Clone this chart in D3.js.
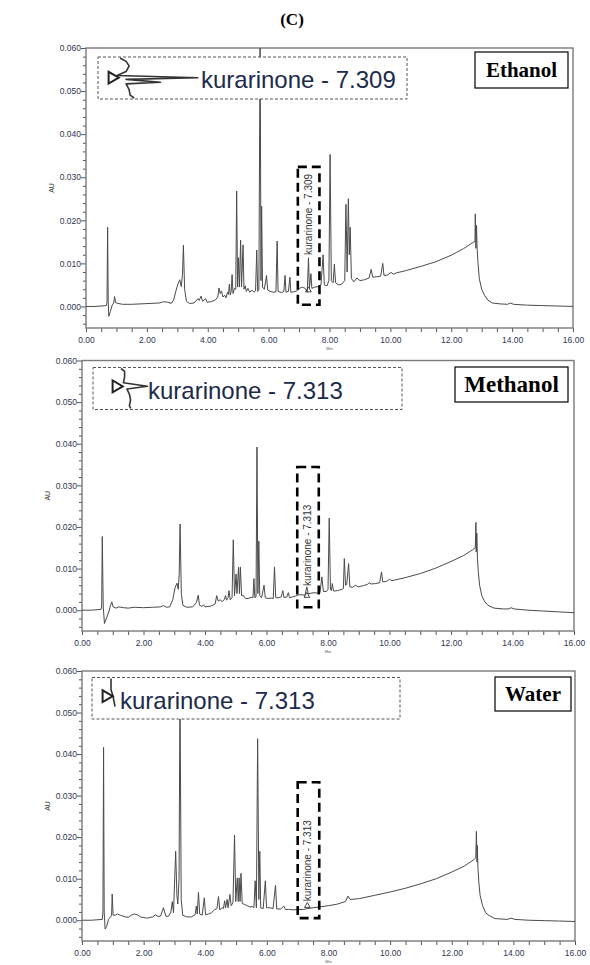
<!DOCTYPE html>
<html>
<head>
<meta charset="utf-8">
<title>Kurarinone chromatograms</title>
<script src="https://cdn.jsdelivr.net/npm/d3@7"></script>
<style>
  body { margin: 0; background: #fff; }
  svg text { font-family: Arial, "Liberation Sans", sans-serif; }
</style>
</head>
<body>
<svg id="chart" width="590" height="965"></svg>
<script>
// ---- data ----
var solventNames = ["Ethanol", "Methanol", "Water"];
var peakLabels = ["kurarinone - 7.309", "kurarinone - 7.313", "kurarinone - 7.313"];
var peakTimes = [7.309, 7.313, 7.313];
var labelStartAU = [0.0117, 0.0056, 0.0043];
var markerAU = [0.0033, 0.0030, 0.0030];
var calloutT0 = [6.96, 7.0, 7.0];
var calloutT1 = [7.67, 7.7, 7.7];
var calloutTop = [0.0324, 0.0344, 0.0332];
var calloutBottom = [0.0004, 0.0007, 0.0005];

var xTickValues = d3.range(0, 16.01, 0.5);
var yTickValues = d3.range(-0.004, 0.0601, 0.002);

var ethanolTrace = [[0,0],[0.3,0],[0.67,0.0002],[0.69,0.001],[0.71,0.0184],[0.73,0.001],[0.75,-0.0023],[0.8,-0.0012],[0.86,0.0003],[0.91,0.0008],[0.94,0.0023],[0.97,0.0009],[1.05,0.0007],[1.2,0.0005],[1.5,0.0005],[1.8,0.0006],[2.1,0.0007],[2.4,0.0008],[2.55,0.0011],[2.68,0.001],[2.8,0.0007],[2.88,0.0015],[2.95,0.0035],[3.02,0.0052],[3.08,0.0062],[3.13,0.0046],[3.17,0.0075],[3.2,0.0142],[3.24,0.004],[3.3,0.0012],[3.4,0.0007],[3.55,0.0008],[3.68,0.0018],[3.72,0.0014],[3.78,0.0024],[3.83,0.0012],[3.93,0.0018],[3.98,0.001],[4.1,0.0011],[4.25,0.0015],[4.33,0.0022],[4.37,0.0043],[4.41,0.003],[4.45,0.0036],[4.5,0.0022],[4.56,0.0026],[4.6,0.002],[4.65,0.0033],[4.68,0.0028],[4.71,0.0052],[4.74,0.0027],[4.77,0.0035],[4.8,0.0074],[4.83,0.003],[4.88,0.0042],[4.92,0.004],[4.95,0.0268],[4.98,0.0045],[5.01,0.0113],[5.04,0.0045],[5.08,0.0154],[5.11,0.0045],[5.16,0.0143],[5.19,0.004],[5.23,0.0048],[5.27,0.0035],[5.32,0.0042],[5.38,0.0033],[5.45,0.0038],[5.52,0.0033],[5.57,0.0036],[5.61,0.0131],[5.64,0.0035],[5.68,0.004],[5.72,0.063],[5.75,0.006],[5.77,0.0233],[5.8,0.0045],[5.86,0.004],[5.93,0.0072],[5.97,0.0038],[6.05,0.0035],[6.15,0.0033],[6.24,0.0034],[6.28,0.0152],[6.31,0.0035],[6.42,0.0032],[6.5,0.0035],[6.54,0.0072],[6.57,0.0033],[6.65,0.0035],[6.7,0.0068],[6.73,0.0033],[6.82,0.0034],[6.92,0.0036],[7.02,0.0042],[7.1,0.0045],[7.2,0.0042],[7.27,0.0033],[7.31,0.0113],[7.34,0.0042],[7.39,0.0076],[7.42,0.0042],[7.52,0.0045],[7.62,0.0046],[7.72,0.005],[7.79,0.012],[7.83,0.005],[7.92,0.0048],[7.98,0.006],[8.02,0.0353],[8.06,0.006],[8.12,0.0055],[8.16,0.0098],[8.2,0.0055],[8.3,0.005],[8.4,0.0052],[8.5,0.006],[8.54,0.0237],[8.58,0.008],[8.62,0.025],[8.65,0.012],[8.68,0.0184],[8.72,0.0065],[8.8,0.0057],[8.9,0.0066],[9.0,0.006],[9.15,0.0062],[9.3,0.0066],[9.37,0.0086],[9.42,0.0068],[9.55,0.0069],[9.68,0.007],[9.75,0.01],[9.79,0.0072],[9.9,0.0073],[10.02,0.0079],[10.1,0.0075],[10.2,0.0078],[10.5,0.0083],[11.0,0.0093],[11.5,0.0104],[12.0,0.0119],[12.4,0.0134],[12.7,0.0148],[12.78,0.0151],[12.79,0.0215],[12.81,0.0135],[12.83,0.0188],[12.85,0.0135],[12.88,0.01],[12.92,0.0065],[13.0,0.004],[13.1,0.0025],[13.2,0.0015],[13.35,0.0008],[13.6,0.0006],[13.85,0.0005],[13.94,0.0008],[14.05,0.0005],[14.5,0.0003],[15.0,0.0002],[15.5,0.0001],[16.0,0.0]];

var methanolTrace = [[0,0],[0.3,0],[0.62,0.0002],[0.64,0.001],[0.66,0.0177],[0.69,0.001],[0.73,-0.0032],[0.8,-0.0018],[0.88,-0.0002],[0.93,0.0012],[0.97,0.002],[1.01,0.0008],[1.1,0.0005],[1.2,0.0008],[1.35,0.0006],[1.5,0.0005],[1.7,0.0007],[2.0,0.0006],[2.3,0.0007],[2.55,0.0008],[2.65,0.0011],[2.75,0.0007],[2.85,0.0008],[2.95,0.0025],[3.03,0.0055],[3.09,0.0065],[3.13,0.005],[3.16,0.0085],[3.19,0.0207],[3.23,0.004],[3.28,0.0012],[3.4,0.0007],[3.6,0.0008],[3.72,0.0018],[3.78,0.0036],[3.82,0.0012],[3.9,0.0009],[3.95,0.0013],[4.0,0.0008],[4.2,0.001],[4.33,0.0015],[4.38,0.0035],[4.43,0.0022],[4.5,0.0025],[4.56,0.002],[4.62,0.0025],[4.67,0.0035],[4.7,0.0024],[4.75,0.003],[4.78,0.0047],[4.82,0.0025],[4.88,0.003],[4.92,0.0169],[4.96,0.0035],[5.01,0.0087],[5.04,0.004],[5.09,0.0103],[5.12,0.004],[5.15,0.0104],[5.19,0.0035],[5.25,0.0035],[5.32,0.0028],[5.4,0.0028],[5.5,0.0031],[5.56,0.003],[5.59,0.0076],[5.62,0.003],[5.66,0.0032],[5.69,0.0392],[5.72,0.004],[5.75,0.0166],[5.78,0.0035],[5.84,0.003],[5.92,0.006],[5.96,0.003],[6.05,0.0028],[6.15,0.0029],[6.22,0.0028],[6.26,0.0104],[6.3,0.003],[6.4,0.003],[6.48,0.0032],[6.53,0.0047],[6.57,0.003],[6.66,0.0032],[6.71,0.0042],[6.75,0.003],[6.85,0.0032],[6.95,0.0034],[7.05,0.0037],[7.15,0.0037],[7.25,0.0036],[7.31,0.0056],[7.36,0.0039],[7.45,0.0041],[7.55,0.0042],[7.65,0.0041],[7.74,0.0042],[7.8,0.008],[7.85,0.0045],[7.95,0.0045],[8.0,0.005],[8.04,0.0221],[8.08,0.005],[8.11,0.0047],[8.14,0.0064],[8.18,0.0046],[8.3,0.0047],[8.45,0.005],[8.5,0.0052],[8.53,0.0124],[8.57,0.006],[8.61,0.0062],[8.67,0.0112],[8.71,0.0056],[8.8,0.0055],[8.9,0.006],[8.98,0.0056],[9.15,0.0059],[9.28,0.0062],[9.34,0.0066],[9.4,0.0063],[9.55,0.0064],[9.68,0.0066],[9.74,0.0092],[9.78,0.0068],[9.9,0.0069],[10.0,0.0074],[10.08,0.0071],[10.2,0.0073],[10.5,0.0078],[11.0,0.0088],[11.5,0.0101],[12.0,0.0117],[12.4,0.0131],[12.7,0.0145],[12.79,0.015],[12.81,0.0211],[12.82,0.014],[12.84,0.0185],[12.86,0.0125],[12.89,0.009],[12.93,0.006],[13.0,0.0035],[13.1,0.002],[13.2,0.0012],[13.4,0.0005],[13.7,0.0003],[13.88,0.0003],[13.95,0.0006],[14.05,0.0003],[14.5,0.0],[15.0,-0.0002],[15.5,-0.0004],[16.0,-0.0006]];

var waterTrace = [[0,0],[0.3,0],[0.66,0.0002],[0.68,0.002],[0.7,0.0416],[0.72,0.002],[0.75,-0.0021],[0.8,-0.0015],[0.86,0.0002],[0.93,0.0008],[0.96,0.0012],[0.98,0.0063],[1.01,0.0012],[1.08,0.0012],[1.15,0.0015],[1.25,0.0012],[1.4,0.0008],[1.5,0.0007],[1.6,0.0012],[1.7,0.0015],[1.8,0.0013],[1.9,0.0008],[2.1,0.0005],[2.3,0.0008],[2.38,0.0013],[2.47,0.0009],[2.55,0.001],[2.64,0.003],[2.72,0.001],[2.8,0.0009],[2.88,0.0018],[2.93,0.0045],[2.97,0.0018],[3.04,0.0166],[3.08,0.006],[3.11,0.0039],[3.15,0.01],[3.18,0.056],[3.22,0.005],[3.27,0.0012],[3.4,0.0008],[3.55,0.0008],[3.67,0.0013],[3.71,0.0034],[3.74,0.0015],[3.78,0.0067],[3.82,0.0015],[3.9,0.0012],[3.97,0.0054],[4.01,0.0013],[4.1,0.0015],[4.2,0.0018],[4.3,0.0025],[4.38,0.0028],[4.43,0.0057],[4.47,0.0025],[4.55,0.003],[4.59,0.0028],[4.63,0.0047],[4.66,0.003],[4.71,0.005],[4.74,0.003],[4.8,0.0062],[4.84,0.0035],[4.9,0.0042],[4.95,0.0205],[4.99,0.0045],[5.04,0.0102],[5.07,0.0045],[5.1,0.0102],[5.13,0.0045],[5.16,0.0113],[5.2,0.004],[5.28,0.0038],[5.36,0.0035],[5.45,0.0032],[5.52,0.0033],[5.58,0.003],[5.62,0.0095],[5.66,0.003],[5.7,0.0437],[5.74,0.005],[5.77,0.0166],[5.8,0.003],[5.88,0.0028],[5.95,0.0095],[5.99,0.003],[6.1,0.003],[6.2,0.0028],[6.28,0.0084],[6.32,0.0027],[6.45,0.0027],[6.55,0.0034],[6.6,0.0026],[6.7,0.0026],[6.85,0.0025],[7.0,0.0026],[7.2,0.0026],[7.31,0.0028],[7.5,0.003],[8.0,0.0035],[8.3,0.0039],[8.55,0.0045],[8.63,0.0058],[8.7,0.005],[9.0,0.0052],[9.5,0.006],[10.0,0.0068],[10.5,0.0077],[11.0,0.0088],[11.5,0.01],[12.0,0.0116],[12.4,0.013],[12.7,0.0145],[12.78,0.015],[12.8,0.0214],[12.82,0.014],[12.83,0.018],[12.85,0.0125],[12.88,0.009],[12.92,0.006],[13.0,0.0035],[13.1,0.0018],[13.2,0.0012],[13.4,0.0004],[13.6,0.0003],[13.8,0.0002],[13.93,0.0005],[14.05,0.0002],[14.5,0.0],[15.0,-0.0001],[15.5,-0.0002],[16.0,-0.0003]];

var traces = [ethanolTrace, methanolTrace, waterTrace];

// ---- layout ----
var layout = [
  {left: 86, right: 573, top: 48, bottom: 328,
   nameBox: [475, 52, 568, 88], nameSize: 21,
   inset: [98, 57, 407, 99], insetText: 201, insetBase: 117, insetGain: 10100},
  {left: 82, right: 574, top: 360.5, bottom: 631,
   nameBox: [455, 367, 568, 402], nameSize: 23,
   inset: [93, 367.5, 402, 409.5], insetText: 148, insetBase: 121, insetGain: 12000},
  {left: 82, right: 575, top: 671, bottom: 941,
   nameBox: [495, 677, 571, 711], nameSize: 21,
   inset: [92, 677.5, 400, 719], insetText: 120, insetBase: 111, insetGain: 10000}
];

var svg = d3.select("#chart");

svg.append("text")
  .attr("x", 292).attr("y", 25)
  .attr("text-anchor", "middle")
  .style("font-family", "'Times New Roman', 'Liberation Serif', serif")
  .style("font-weight", "bold")
  .style("font-size", "17px")
  .text("(C)");

layout.forEach(function(p, i) {
  var g = svg.append("g");
  var x = d3.scaleLinear().domain([0, 16]).range([p.left, p.right]);
  var y = d3.scaleLinear().domain([-0.005, 0.060]).range([p.bottom, p.top]);

  // axes
  var xAxis = d3.axisBottom(x)
    .tickValues(xTickValues)
    .tickSizeInner(4).tickSizeOuter(0).tickPadding(5)
    .tickFormat(function(d) { return d % 2 === 0 ? d3.format(".2f")(d) : ""; });
  var gx = g.append("g").attr("transform", "translate(0," + p.bottom + ")").call(xAxis);

  var isMajor = function(v) { return Math.abs(v * 100 - Math.round(v * 100)) < 1e-6; };
  var yAxis = d3.axisLeft(y)
    .tickValues(yTickValues)
    .tickSizeInner(4).tickSizeOuter(0).tickPadding(1)
    .tickFormat(function(d) { return isMajor(d) ? d3.format(".3f")(Math.abs(d) < 1e-9 ? 0 : d) : ""; });
  var gy = g.append("g").attr("transform", "translate(" + p.left + ",0)").call(yAxis);
  gy.selectAll(".tick line").attr("x2", function(d) { return isMajor(d) ? -5 : -3; });

  [gx, gy].forEach(function(a) {
    a.select(".domain").remove();
    a.selectAll(".tick line").attr("stroke", "#555");
    a.selectAll(".tick text")
      .attr("fill", "#2f3552")
      .style("font-size", "8.5px")
      .style("font-family", "Arial, 'Liberation Sans', sans-serif");
  });

  // frame
  g.append("rect")
    .attr("x", p.left).attr("y", p.top)
    .attr("width", p.right - p.left).attr("height", p.bottom - p.top)
    .attr("fill", "none").attr("stroke", "#7a7a7a").attr("stroke-width", 1.4);

  // AU label
  g.append("text")
    .attr("transform", "translate(" + (p.left - 32) + "," + ((p.top + p.bottom) / 2) + ") rotate(-90)")
    .attr("text-anchor", "middle")
    .attr("fill", "#333")
    .style("font-size", "7px")
    .text("AU");

  // tiny minutes mark under the axis
  g.append("text")
    .attr("x", x(8)).attr("y", p.bottom + 22)
    .attr("text-anchor", "middle")
    .attr("fill", "#555")
    .style("font-size", "4px")
    .text("Min");

  // trace
  var clipId = "clip" + i;
  g.append("clipPath").attr("id", clipId)
    .append("rect").attr("x", p.left).attr("y", p.top)
    .attr("width", p.right - p.left).attr("height", p.bottom - p.top);

  var line = d3.line()
    .x(function(d) { return x(d[0]); })
    .y(function(d) { return y(d[1]); });

  g.append("path")
    .datum(traces[i])
    .attr("clip-path", "url(#" + clipId + ")")
    .attr("d", line)
    .attr("fill", "none")
    .attr("stroke", "#4a4a4a")
    .attr("stroke-width", 1)
    .attr("stroke-linejoin", "round");

  // peak marker and rotated label
  g.append("path")
    .attr("d", d3.symbol(d3.symbolTriangle, 14)())
    .attr("transform", "translate(" + x(peakTimes[i]) + "," + (y(markerAU[i]) - 2) + ")")
    .attr("fill", "none").attr("stroke", "#333").attr("stroke-width", 0.9);

  g.append("text")
    .attr("transform", "translate(" + (x(peakTimes[i]) + 4) + "," + (y(labelStartAU[i]) - 1) + ") rotate(-90)")
    .attr("fill", "#333")
    .style("font-size", "10px")
    .text(peakLabels[i]);

  // bold dashed callout
  g.append("rect")
    .attr("x", x(calloutT0[i])).attr("y", y(calloutTop[i]))
    .attr("width", x(calloutT1[i]) - x(calloutT0[i]))
    .attr("height", y(calloutBottom[i]) - y(calloutTop[i]))
    .attr("fill", "none").attr("stroke", "#000")
    .attr("stroke-width", 2.6).attr("stroke-dasharray", "9,5");

  // inset with zoomed, sideways view of the callout region
  var ib = p.inset;
  g.append("rect")
    .attr("x", ib[0]).attr("y", ib[1])
    .attr("width", ib[2] - ib[0]).attr("height", ib[3] - ib[1])
    .attr("fill", "#fff").attr("stroke", "#555")
    .attr("stroke-width", 1).attr("stroke-dasharray", "3,2");

  var seg = traces[i].filter(function(d) { return d[0] >= calloutT0[i] - 0.05 && d[0] <= calloutT1[i] + 0.05; });
  var baseAU = d3.min(seg, function(d) { return d[1]; });
  var ti = d3.scaleLinear().domain([calloutT0[i], calloutT1[i]]).range([ib[1] + 1, ib[3] - 1]).clamp(true);
  var vi = d3.scaleLinear().domain([baseAU, baseAU + 1]).range([p.insetBase, p.insetBase + p.insetGain]);
  var sideLine = d3.line()
    .x(function(d) { return vi(d[1]); })
    .y(function(d) { return ti(d[0]); });
  g.append("path")
    .datum(seg)
    .attr("d", sideLine)
    .attr("fill", "none").attr("stroke", "#333").attr("stroke-width", 1.6)
    .attr("stroke-linejoin", "round");

  var tx = p.insetBase - 5, ty = ti(peakTimes[i]);
  g.append("path")
    .attr("d", d3.symbol(d3.symbolTriangle, 60)())
    .attr("transform", "translate(" + tx + "," + ty + ") rotate(90)")
    .attr("fill", "none").attr("stroke", "#222").attr("stroke-width", 2);

  g.append("text")
    .attr("x", p.insetText).attr("y", ib[1] + 31)
    .attr("fill", "#1c2a4a")
    .style("font-size", "24px")
    .text(peakLabels[i]);

  // solvent name box
  var nb = p.nameBox;
  g.append("rect")
    .attr("x", nb[0]).attr("y", nb[1])
    .attr("width", nb[2] - nb[0]).attr("height", nb[3] - nb[1])
    .attr("fill", "#fff").attr("stroke", "#000").attr("stroke-width", 1.2);
  g.append("text")
    .attr("x", (nb[0] + nb[2]) / 2).attr("y", (nb[1] + nb[3]) / 2 + p.nameSize * 0.33)
    .attr("text-anchor", "middle")
    .style("font-family", "'Times New Roman', 'Liberation Serif', serif")
    .style("font-weight", "bold")
    .style("font-size", p.nameSize + "px")
    .text(solventNames[i]);
});
</script>
</body>
</html>
